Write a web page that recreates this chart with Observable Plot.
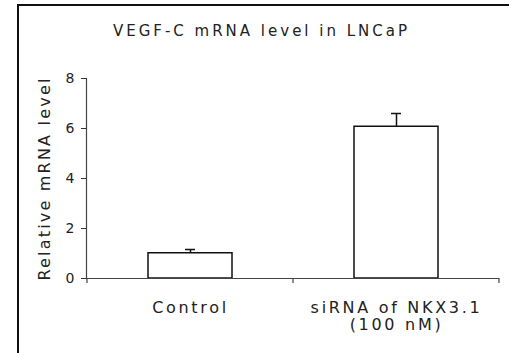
<!DOCTYPE html>
<html>
<head>
<meta charset="utf-8">
<script src="https://cdn.jsdelivr.net/npm/d3@7"></script>
<script src="https://cdn.jsdelivr.net/npm/@observablehq/plot@0.6"></script>
<style>
  html, body { margin: 0; padding: 0; background: #fff; }
  #wrap { position: relative; width: 509px; height: 353px; overflow: hidden; font-family: "DejaVu Sans", sans-serif; }
  #border { position: absolute; left: 17px; top: 4px; width: 600px; height: 600px; border-left: 2px solid #111; border-top: 2px solid #111; }
  #title { position: absolute; left: 10px; width: 500px; top: 24px; line-height: 15px; font-size: 15px; letter-spacing: 3px; padding-left: 3px; box-sizing: border-box; text-align: center; color: #222; }
  #chart { position: absolute; left: 0; top: 0; }
</style>
</head>
<body>
<div id="wrap">
  <div id="border"></div>
  <div id="title">VEGF-C mRNA level in LNCaP</div>
  <div id="chart"></div>
</div>
<script>
const categories = ["Control", "siRNA of NKX3.1\n(100 nM)"];
const values = [1.01, 6.07];
const errors = [0.15, 0.53];
const yTicks = [0, 2, 4, 6, 8];
const yLabel = "Relative mRNA level";

const data = categories.map((c, i) => ({cat: c, value: values[i], err: errors[i]}));

const chart = Plot.plot({
  width: 509,
  height: 353,
  marginLeft: 86,
  marginRight: 10,
  marginTop: 78,
  marginBottom: 75,
  style: {fontFamily: "DejaVu Sans, sans-serif", color: "#222", background: "transparent"},
  x: {domain: categories, paddingInner: 0.593, paddingOuter: 0.2965, label: null},
  y: {domain: [0, 8], label: null},
  marks: [
    Plot.axisY({ticks: yTicks, tickSize: 5, tickPadding: 7, fontSize: 14, stroke: "#333", label: null}),
    Plot.text([yLabel], {frameAnchor: "left", rotate: -90, textAnchor: "middle", dx: -42, fontSize: 16, fill: "#222", text: d => d}),
    Plot.axisX({tickSize: 0, tickPadding: 22, fontSize: 16, lineHeight: 1.08}),
    Plot.barY(data, {x: "cat", y: "value", fill: "white", stroke: "#111", strokeWidth: 1.5}),
    Plot.ruleX(data, {x: "cat", y1: "value", y2: d => d.value + d.err, stroke: "#111", strokeWidth: 1.5}),
    Plot.tickY(data, {x: "cat", y: d => d.value + d.err, stroke: "#111", strokeWidth: 1.5, insetLeft: 37, insetRight: 37}),
    Plot.ruleY([0], {stroke: "#444", strokeWidth: 1.2}),
    Plot.frame({anchor: "left", stroke: "#444", strokeWidth: 1.2})
  ]
});

document.getElementById("chart").appendChild(chart);

// wide-set lettering as in the reference
const svg = d3.select(chart);
svg.selectAll('[aria-label="x-axis tick label"] text').style("letter-spacing", "2.7px");
svg.selectAll('[aria-label="text"] text').style("letter-spacing", "2.2px");

// band-boundary ticks on the x axis, positioned by Plot's x scale
const xs = chart.scale("x");
const ys = chart.scale("y");
const y0 = ys.apply(0);
const bounds = categories.map(c => xs.apply(c) + xs.bandwidth / 2 - xs.step / 2);
bounds.push(xs.apply(categories[categories.length - 1]) + xs.bandwidth / 2 + xs.step / 2);
svg.append("g").attr("aria-label", "x-axis boundary ticks")
  .selectAll("line").data(bounds).join("line")
  .attr("x1", d => d).attr("x2", d => d)
  .attr("y1", y0).attr("y2", y0 + 5)
  .attr("stroke", "#444").attr("stroke-width", 1.2);
</script>
</body>
</html>
